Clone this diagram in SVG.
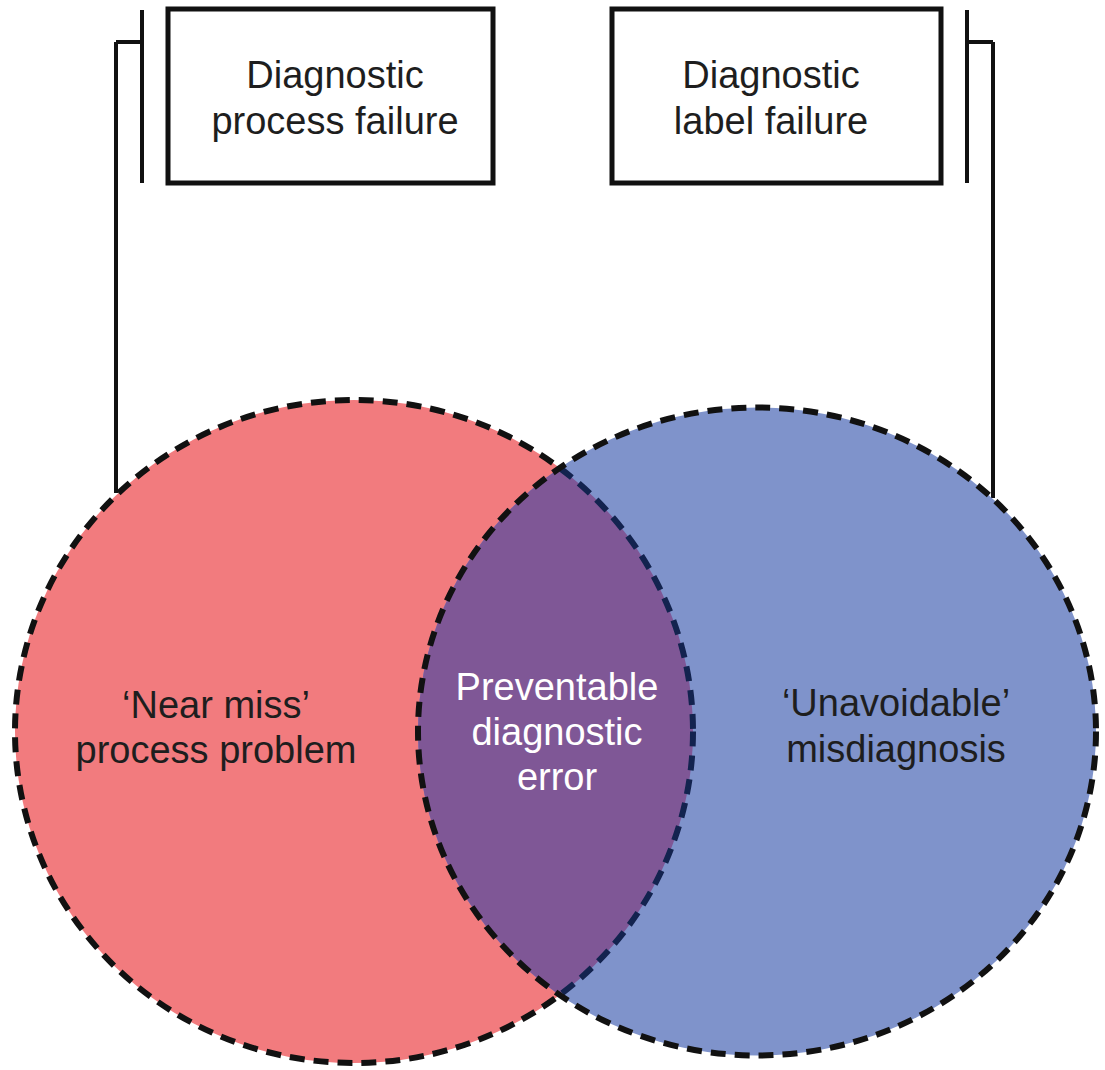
<svg xmlns="http://www.w3.org/2000/svg" width="1105" height="1070" viewBox="0 0 1105 1070">
  <style>
    .box { fill: #ffffff; stroke: #111111; stroke-width: 5; }
    .line { fill: none; stroke: #111111; stroke-width: 4; }
    .ring { fill: none; stroke: #111111; stroke-width: 6; stroke-dasharray: 15 9; }
    .txt { font-family: "Liberation Sans", Arial, sans-serif; font-size: 38px; fill: #1e1e1e; text-anchor: middle; }
    .wtxt { font-family: "Liberation Sans", Arial, sans-serif; font-size: 38px; fill: #ffffff; text-anchor: middle; }
  </style>
  <defs>
    <ellipse id="leftShape" cx="354" cy="731.5" rx="339" ry="331.5"/>
    <ellipse id="rightShape" cx="757" cy="731.5" rx="339" ry="324"/>
    <clipPath id="clipLeft"><use href="#leftShape"/></clipPath>
    <clipPath id="clipRight"><use href="#rightShape"/></clipPath>
  </defs>
  <rect width="1105" height="1070" fill="#ffffff"/>

  <g id="connectors">
    <path class="line" d="M142 10 V183 M116 42 H142 M116 42 V493"/>
    <path class="line" d="M967 10 V183 M967 42 H993 M993 42 V498"/>
  </g>

  <g id="venn">
    <use href="#leftShape" fill="#F27B7E"/>
    <use href="#leftShape" class="ring"/>
    <use href="#rightShape" fill="#7F93CB"/>
    <g clip-path="url(#clipLeft)">
      <use href="#rightShape" fill="#7F5796"/>
    </g>
    <g clip-path="url(#clipRight)">
      <use href="#leftShape" class="ring" style="stroke:#13234F"/>
    </g>
    <use href="#rightShape" class="ring"/>
  </g>

  <g id="node-process-failure">
    <rect class="box" x="168" y="9" width="325" height="174"/>
    <text class="txt" x="335" y="88">Diagnostic</text>
    <text class="txt" x="335" y="134">process failure</text>
  </g>
  <g id="node-label-failure">
    <rect class="box" x="612" y="9" width="329" height="174"/>
    <text class="txt" x="771" y="88">Diagnostic</text>
    <text class="txt" x="771" y="134">label failure</text>
  </g>
  <g id="node-near-miss">
    <text class="txt" x="216" y="718">‘Near miss’</text>
    <text class="txt" x="216" y="763">process problem</text>
  </g>
  <g id="node-preventable">
    <text class="wtxt" x="557" y="700">Preventable</text>
    <text class="wtxt" x="557" y="745">diagnostic</text>
    <text class="wtxt" x="557" y="790">error</text>
  </g>
  <g id="node-unavoidable">
    <text class="txt" x="896" y="716">‘Unavoidable’</text>
    <text class="txt" x="896" y="762">misdiagnosis</text>
  </g>
</svg>
